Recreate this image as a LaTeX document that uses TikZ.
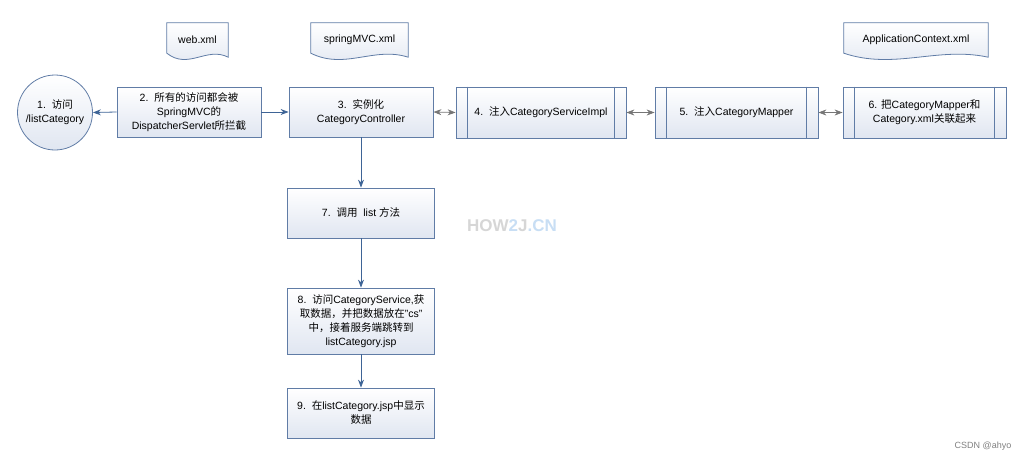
\documentclass[tikz,border=0pt]{standalone}
\usepackage{fontspec}
\setmainfont{Liberation Sans}
\newfontfamily\cjk{Noto Sans CJK SC}
\newcommand{\zh}[1]{{\cjk #1}}
\usetikzlibrary{arrows.meta,calc}

\definecolor{boxline}{RGB}{96,124,166}
\definecolor{boxfill}{RGB}{224,230,241}
\definecolor{flowblue}{RGB}{62,100,150}
\definecolor{linkgray}{RGB}{118,118,118}
\definecolor{markgray}{RGB}{214,214,214}
\definecolor{markblue}{RGB}{200,222,244}

\tikzset{
  stepbox/.style={draw=boxline, line width=0.8pt, top color=white, bottom color=boxfill,
    align=center, minimum width=#1, minimum height=50pt, inner sep=2pt,
    font=\fontsize{10.5}{14}\selectfont},
  docbox/.style={minimum width=#1, minimum height=34pt, inner sep=0pt,
    font=\fontsize{10.5}{12}\selectfont},
  flow/.style={draw=flowblue, line width=0.8pt, -{Stealth[length=8pt,width=6pt]}},
  link/.style={draw=linkgray, line width=0.8pt, {Stealth[length=8pt,width=6pt]}-{Stealth[length=8pt,width=6pt]}},
}

\begin{document}
\begin{tikzpicture}[x=1pt,y=-1pt]
  \useasboundingbox (0,0) rectangle (1025,461);

  \node[stepbox=75pt, circle, minimum size=75pt, inner sep=0pt] (visit) at (55,112.5)
    {1.\ \ \zh{访问}\\/listCategory};
  \node[stepbox=144pt] (intercept) at (189,112)
    {2.\ \ \zh{所有的访问都会被}\\SpringMVC\zh{的}\\DispatcherServlet\zh{所拦截}};
  \node[stepbox=144pt] (ctrl) at (361,112)
    {3.\ \ \zh{实例化}\\CategoryController};
  \node[stepbox=170pt, minimum height=51pt] (service) at (541,112.5)
    {4.\ \ \zh{注入}CategoryServiceImpl};
  \node[stepbox=163pt, minimum height=51pt] (mapper) at (736.5,112.5)
    {5.\ \ \zh{注入}CategoryMapper};
  \node[stepbox=163pt, minimum height=51pt] (bind) at (924.5,112.5)
    {6. \zh{把}CategoryMapper\zh{和}\\Category.xml\zh{关联起来}};
  \node[stepbox=147pt] (call) at (361,213)
    {7.\ \ \zh{调用}\ \ list \zh{方法}};
  \node[stepbox=147pt, minimum height=66pt] (fetch) at (361,321)
    {8.\ \ \zh{访问}CategoryService,\zh{获}\\\zh{取数据，并把数据放在}"cs"\\\zh{中，接着服务端跳转到}\\listCategory.jsp};
  \node[stepbox=147pt] (show) at (361,413)
    {9.\ \ \zh{在}listCategory.jsp\zh{中显示}\\\zh{数据}};

  \foreach \b in {service,mapper,bind}{
    \draw[boxline, line width=0.8pt] ([xshift=12pt]\b.north west) -- ([xshift=12pt]\b.south west);
    \draw[boxline, line width=0.8pt] ([xshift=-12pt]\b.north east) -- ([xshift=-12pt]\b.south east);
  }

  \node[docbox=61pt] (web) at (197.5,40) {};
  \node[docbox=97pt] (mvc) at (359.5,40) {};
  \node[docbox=144pt] (ctx) at (916,40) {};
  \foreach \d in {web,mvc,ctx}{
    \path[draw=boxline, line width=0.8pt, top color=white, bottom color=boxfill]
      ([yshift=4pt]\d.south west) -- (\d.north west) -- (\d.north east) -- (\d.south east)
      .. controls ($(\d.south east)!0.35!(\d.south west)+(0,11pt)$)
      and ($(\d.south east)!0.65!(\d.south west)+(0,-13pt)$) .. ([yshift=4pt]\d.south west) -- cycle;
  }
  \node[font=\fontsize{10.5}{12}\selectfont] at (web) {web.xml};
  \node[font=\fontsize{10.5}{12}\selectfont] at (mvc) {springMVC.xml};
  \node[font=\fontsize{10.5}{12}\selectfont] at (ctx) {ApplicationContext.xml};

  \draw[flow] (intercept.west) -- (visit.east);
  \draw[flow] (intercept.east) -- (ctrl.west);
  \draw[link] (ctrl.east) -- (service.west);
  \draw[link] (service.east) -- (mapper.west);
  \draw[link] (mapper.east) -- (bind.west);
  \foreach \a/\b in {ctrl/call, call/fetch, fetch/show}
    \draw[flow] (\a.south) -- (\b.north);

  \node[font=\bfseries\fontsize{17}{17}\selectfont] (mark) at (512,226)
    {\textcolor{markgray}{HOW}\textcolor{markblue}{2}\textcolor{markgray}{J}\textcolor{markblue}{.CN}};
  \node[font=\fontsize{9}{10}\selectfont, text=gray] (csdn) at (983,446) {CSDN @ahyo};
\end{tikzpicture}
\end{document}
